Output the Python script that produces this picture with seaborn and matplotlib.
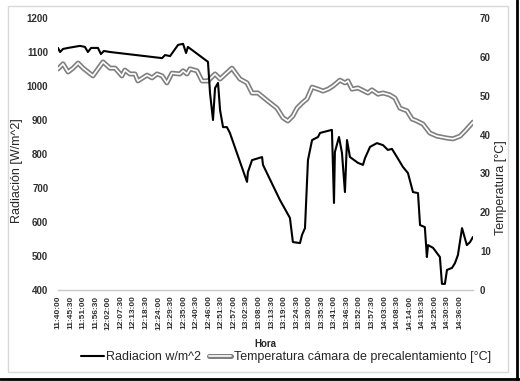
import matplotlib
matplotlib.use("Agg")
import matplotlib.pyplot as plt
import matplotlib.patheffects as pe
from matplotlib.lines import Line2D
from matplotlib.patches import Rectangle
import seaborn as sns
import pandas as pd

sns.set_style("white")
plt.rcParams["font.family"] = ["Liberation Sans", "DejaVu Sans"]

# minutes after 11:40:00
rad_min = [0.0, 0.9, 2.2, 4.4, 9.6, 11.8, 13.1, 14.5, 17.5, 18.8, 20.1, 22.8,
           45.6, 46.9, 49.1, 52.6, 54.8, 56.1, 56.9, 65.7, 66.6, 67.9, 68.8,
           70.1, 71.0, 72.3, 74.0, 75.3, 82.8, 83.2, 85.0, 89.4, 89.8, 97.2,
           101.6, 102.9, 106.0, 106.9, 108.2, 109.5, 111.3, 113.9, 114.8,
           120.0, 120.9, 121.3, 123.1, 124.4, 125.7, 126.6, 127.9, 131.4,
           133.6, 134.5, 136.7, 139.7, 142.4, 144.5, 146.3, 148.5, 151.1,
           153.3, 155.5, 157.7, 158.6, 160.7, 161.6, 162.1, 164.3, 167.3,
           168.2, 169.5, 170.4, 172.6, 173.9, 175.2, 177.0, 179.1, 180.5, 181.8]
rad_val = [1112, 1100, 1109, 1112, 1118, 1115, 1100, 1112, 1112, 1094, 1103, 1100,
           1082, 1091, 1088, 1121, 1124, 1097, 1115, 1071, 979, 900, 994,
           1009, 929, 879, 879, 862, 718, 747, 782, 791, 768, 665,
           612, 541, 538, 562, 582, 782, 841, 850, 862,
           871, 656, 806, 850, 803, 688, 841, 791, 774,
           768, 788, 821, 832, 826, 812, 815, 791, 762,
           744, 688, 685, 591, 585, 497, 532, 524, 497,
           418, 418, 459, 465, 479, 503, 582, 532, 541, 556]

temp_min = [0.0, 2.2, 4.4, 6.6, 8.8, 11.0, 15.3, 19.7, 22.8, 25.0, 28.0, 29.3,
            31.5, 33.7, 35.0, 39.0, 41.2, 43.4, 45.6, 47.7, 49.9, 53.4, 54.8,
            56.5, 57.8, 60.9, 63.1, 65.7, 68.8, 71.0, 76.2, 79.7, 82.8, 85.0,
            87.6, 92.0, 95.9, 98.6, 100.7, 102.9, 104.7, 106.9, 109.1, 111.3,
            113.9, 116.1, 118.3, 120.5, 123.5, 125.7, 127.0, 128.8, 131.4,
            135.8, 137.5, 140.2, 142.4, 145.4, 147.6, 149.8, 152.9, 155.1,
            157.2, 159.9, 162.9, 166.0, 170.4, 173.0, 176.1, 178.3, 181.8]
temp_val = [56.9, 58.2, 56.1, 57.1, 58.4, 57.1, 55.1, 58.7, 57.1, 57.1, 55.1, 56.6,
            55.6, 55.6, 53.8, 55.3, 54.6, 55.6, 55.1, 53.3, 55.8, 55.6, 56.4,
            55.6, 56.9, 56.4, 53.8, 53.8, 55.6, 54.3, 57.1, 54.3, 53.3, 50.7,
            50.7, 48.6, 46.8, 44.3, 43.5, 44.8, 46.8, 48.1, 49.2, 52.2,
            51.7, 51.2, 51.7, 52.5, 54.0, 53.3, 53.8, 51.7, 52.0,
            50.7, 51.5, 50.4, 50.7, 50.2, 49.4, 46.8, 46.1, 44.0,
            43.5, 42.7, 40.4, 39.6, 39.1, 38.9, 39.6, 40.9, 43.2]

hora_labels = ["11:40:00", "11:45:30", "11:51:00", "11:56:30", "12:02:00", "12:07:30",
               "12:13:00", "12:18:30", "12:24:00", "12:29:30", "12:35:00", "12:40:30",
               "12:46:00", "12:51:30", "12:57:00", "13:02:30", "13:08:00", "13:13:30",
               "13:19:00", "13:24:30", "13:30:00", "13:35:30", "13:41:00", "13:46:30",
               "13:52:00", "13:57:30", "14:03:00", "14:08:30", "14:14:00", "14:19:30",
               "14:25:00", "14:30:30", "14:36:00"]


def to_min(s):
    h, m, sec = map(int, s.split(":"))
    return h * 60 + m + sec / 60 - (11 * 60 + 40)


rad = pd.DataFrame({"t": rad_min, "v": rad_val})
temp = pd.DataFrame({"t": temp_min, "v": temp_val})

W, H = 520, 381
fig = plt.figure(figsize=(W / 100, H / 100), dpi=100)
ax = fig.add_axes([58 / W, 1 - 290 / H, (473 - 58) / W, (290 - 18) / H])
ax2 = ax.twinx()

double = [pe.Stroke(linewidth=3.6, foreground="#7f7f7f"), pe.Normal()]
sns.lineplot(data=temp, x="t", y="v", ax=ax2, color="white", lw=1.2,
             sort=False, estimator=None, path_effects=double)
sns.lineplot(data=rad, x="t", y="v", ax=ax, color="black", lw=1.5,
             sort=False, estimator=None)

ax.set_zorder(ax2.get_zorder() + 1)
ax.patch.set_visible(False)

ax.set_xlim(0, 181.8)
ax.set_ylim(400, 1200)
ax2.set_ylim(0, 70)
ax.set_yticks(range(400, 1201, 100))
ax2.set_yticks(range(0, 71, 10))
ax.set_xticks([to_min(s) for s in hora_labels])
ax.set_xticklabels(hora_labels, rotation=90, fontsize=6, fontweight="bold", color="#303030")
ax.set_xlabel("")
ax.set_ylabel("")
ax2.set_ylabel("")

for lab in ax.get_yticklabels() + ax2.get_yticklabels():
    lab.set_fontsize(7)
    lab.set_fontweight("bold")
    lab.set_color("#303030")

ax.tick_params(axis="y", length=0, pad=7)
ax.tick_params(axis="x", length=0, pad=4)
ax2.tick_params(axis="y", length=0, pad=5)

for a in (ax, ax2):
    for s in a.spines.values():
        s.set_visible(False)
ax.spines["bottom"].set_visible(True)
ax.spines["bottom"].set_color("#c8c8c8")
ax.spines["bottom"].set_linewidth(1.0)

fig.text(17 / W, 1 - 171 / H, "Radiación [W/m^2]", rotation=90, ha="center", va="center", fontsize=9)
fig.text(501 / W, 1 - 188 / H, "Temperatura [°C]", rotation=90, ha="center", va="center", fontsize=9)
fig.text(265 / W, 1 - 344 / H, "Hora", ha="center", va="center", fontsize=7, fontweight="bold")

handles = [Line2D([], [], color="black", lw=1.5),
           Line2D([], [], color="white", lw=1.2, path_effects=double)]
fig.legend(handles, ["Radiacion w/m^2", "Temperatura cámara de precalentamiento [°C]"],
           loc="center", bbox_to_anchor=(286 / W, 1 - 357 / H), ncol=2, frameon=False,
           fontsize=9, handlelength=1.8, handletextpad=0.2, columnspacing=0.6)

fig.patches.append(Rectangle((8 / W, 1 - 372 / H), 500 / W, 366 / H, transform=fig.transFigure,
                             fill=False, edgecolor="#d9d9d9", lw=1.0))
fig.lines.append(Line2D([517 / W, 517 / W], [0, 1], transform=fig.transFigure, color="black", lw=2))
fig.lines.append(Line2D([0, 1], [1 - 379 / H, 1 - 379 / H], transform=fig.transFigure, color="black", lw=2))

fig.savefig("out.png", dpi=100)
